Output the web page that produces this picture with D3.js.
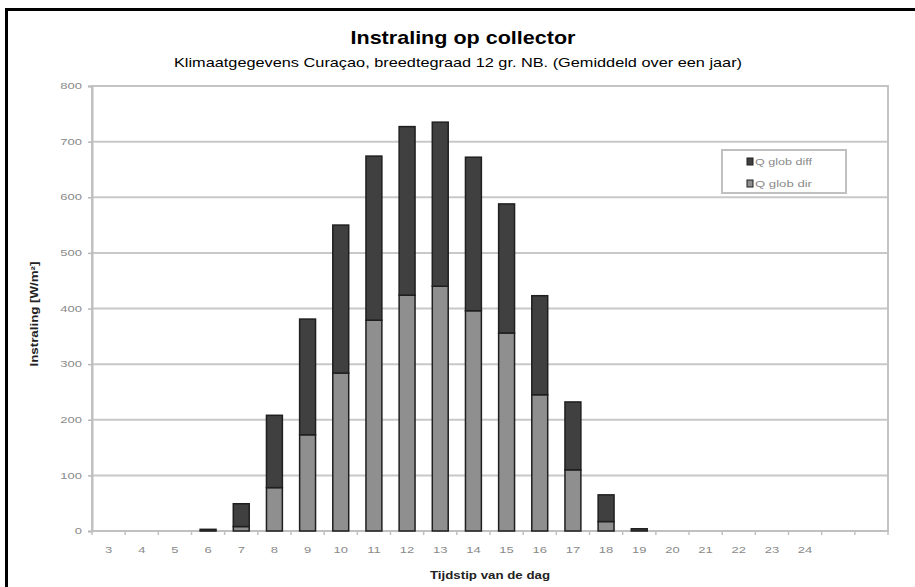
<!DOCTYPE html>
<html><head><meta charset="utf-8">
<script src="https://cdn.jsdelivr.net/npm/d3@7"></script>
<style>body{margin:0;background:#fff}svg{display:block}text{font-family:"Liberation Sans",Arial,sans-serif}</style>
</head><body>
<svg id="c" width="915" height="587"></svg>
<script>
const categories = ["3","4","5","6","7","8","9","10","11","12","13","14","15","16","17","18","19","20","21","22","23","24","",""];
const qGlobDir  = [0,0,0,0,8,78,173,284,379,424,440,396,356,245,110,17,0,0,0,0,0,0,0,0];
const qGlobDiff = [0,0,0,3,41,130,208,266,295,303,295,276,232,178,122,48,4,0,0,0,0,0,0,0];
const yTicks = [0,100,200,300,400,500,600,700,800];
const seriesNames = ["Q glob diff","Q glob dir"];

const svg = d3.select("#c");
const W = 915, H = 587;
const m = {l:92, r:888, t:86, b:531};

svg.append("rect").attr("x",0).attr("y",0).attr("width",W).attr("height",H).attr("fill","#fff");
// outer frame (extends past the picture on right/bottom)
svg.append("rect").attr("x",6.5).attr("y",9.5).attr("width",W+20).attr("height",H+20)
  .attr("fill","none").attr("stroke","#000").attr("stroke-width",3);

svg.append("text").attr("x",463).attr("y",44).attr("text-anchor","middle")
  .attr("font-size",19).attr("font-weight","bold").attr("fill","#000")
  .attr("textLength",225).attr("lengthAdjust","spacingAndGlyphs").text("Instraling op collector");
svg.append("text").attr("x",458).attr("y",67).attr("text-anchor","middle")
  .attr("font-size",13.5).attr("fill","#000")
  .attr("textLength",568).attr("lengthAdjust","spacingAndGlyphs")
  .text("Klimaatgegevens Curaçao, breedtegraad 12 gr. NB. (Gemiddeld over een jaar)");

const x = d3.scaleBand().domain(d3.range(categories.length)).range([m.l,m.r]).paddingInner(0.52).paddingOuter(0.26);
const y = d3.scaleLinear().domain([0,800]).range([m.b,m.t]);
const step = (m.r-m.l)/categories.length;

// gridlines
svg.append("g").selectAll("line").data(yTicks.filter(d=>d>0)).join("line")
  .attr("x1",m.l).attr("x2",m.r).attr("y1",d=>y(d)).attr("y2",d=>y(d))
  .attr("stroke","#c8c8c8").attr("stroke-width",2);
// plot border
svg.append("rect").attr("x",m.l).attr("y",m.t).attr("width",m.r-m.l).attr("height",m.b-m.t)
  .attr("fill","none").attr("stroke","#c4c4c4").attr("stroke-width",2);

// y axis
const ya = svg.append("g").attr("transform",`translate(${m.l},0)`)
  .call(d3.axisLeft(y).tickValues(yTicks).tickSize(4).tickPadding(6).tickFormat(d3.format("d")));
ya.select(".domain").attr("stroke","#c0c0c0").attr("stroke-width",2);
ya.selectAll(".tick line").attr("stroke","#b8b8b8").attr("stroke-width",1.5);
ya.selectAll(".tick text").attr("font-size",10).attr("fill","#8a8a8a")
  .attr("font-family","Liberation Sans, Arial, sans-serif")
  .attr("transform","scale(1.3,0.85)").attr("x",-7.7);

// x axis ticks at category boundaries
const xa = svg.append("g").attr("transform",`translate(0,${m.b})`);
xa.append("line").attr("x1",m.l).attr("x2",m.r).attr("stroke","#c0c0c0").attr("stroke-width",2);
xa.selectAll("line.t").data(d3.range(categories.length+1)).join("line").attr("class","t")
  .attr("x1",i=>m.l+i*step).attr("x2",i=>m.l+i*step).attr("y1",0).attr("y2",4)
  .attr("stroke","#c0c0c0").attr("stroke-width",1.5);
xa.selectAll("g.lab").data(categories).join("g").attr("class","lab")
  .attr("transform",(d,i)=>`translate(${x(i)+x.bandwidth()/2},22)`)
  .append("text").attr("text-anchor","middle").attr("font-size",10).attr("fill","#8a8a8a")
  .attr("transform","scale(1.3,0.85)").text(d=>d);

// bars
const bars = svg.append("g");
categories.forEach((c,i)=>{
  const d0 = qGlobDir[i], d1 = qGlobDiff[i];
  if (d0>0) bars.append("rect").attr("x",x(i)).attr("width",x.bandwidth())
    .attr("y",y(d0)).attr("height",y(0)-y(d0))
    .attr("fill","#8f8f8f").attr("stroke","#1f1f1f").attr("stroke-width",1.5);
  if (d1>0) bars.append("rect").attr("x",x(i)).attr("width",x.bandwidth())
    .attr("y",y(d0+d1)).attr("height",y(d0)-y(d0+d1))
    .attr("fill","#404040").attr("stroke","#1f1f1f").attr("stroke-width",1.5);
});

// axis titles
svg.append("text").attr("transform",`translate(38,314) rotate(-90)`).attr("text-anchor","middle")
  .attr("font-size",10).attr("font-weight","bold").attr("fill","#222")
  .attr("textLength",105).attr("lengthAdjust","spacingAndGlyphs").text("Instraling [W/m²]");
svg.append("text").attr("x",490).attr("y",579).attr("text-anchor","middle")
  .attr("font-size",10).attr("font-weight","bold").attr("fill","#222")
  .attr("textLength",120).attr("lengthAdjust","spacingAndGlyphs").text("Tijdstip van de dag");

// legend
const lg = svg.append("g");
lg.append("rect").attr("x",722).attr("y",150).attr("width",124).attr("height",43)
  .attr("fill","#fff").attr("stroke","#c0c0c0").attr("stroke-width",2);
const lfill = ["#404040","#8f8f8f"];
seriesNames.forEach((n,i)=>{
  const yy = 158 + i*22;
  lg.append("rect").attr("x",747).attr("y",yy).attr("width",6).attr("height",7)
    .attr("fill",lfill[i]).attr("stroke","#1f1f1f").attr("stroke-width",1);
  lg.append("text").attr("x",755).attr("y",yy+7).attr("font-size",9).attr("fill","#8a8a8a")
    .attr("textLength",57).attr("lengthAdjust","spacingAndGlyphs").text(n);
});
</script>
</body></html>
